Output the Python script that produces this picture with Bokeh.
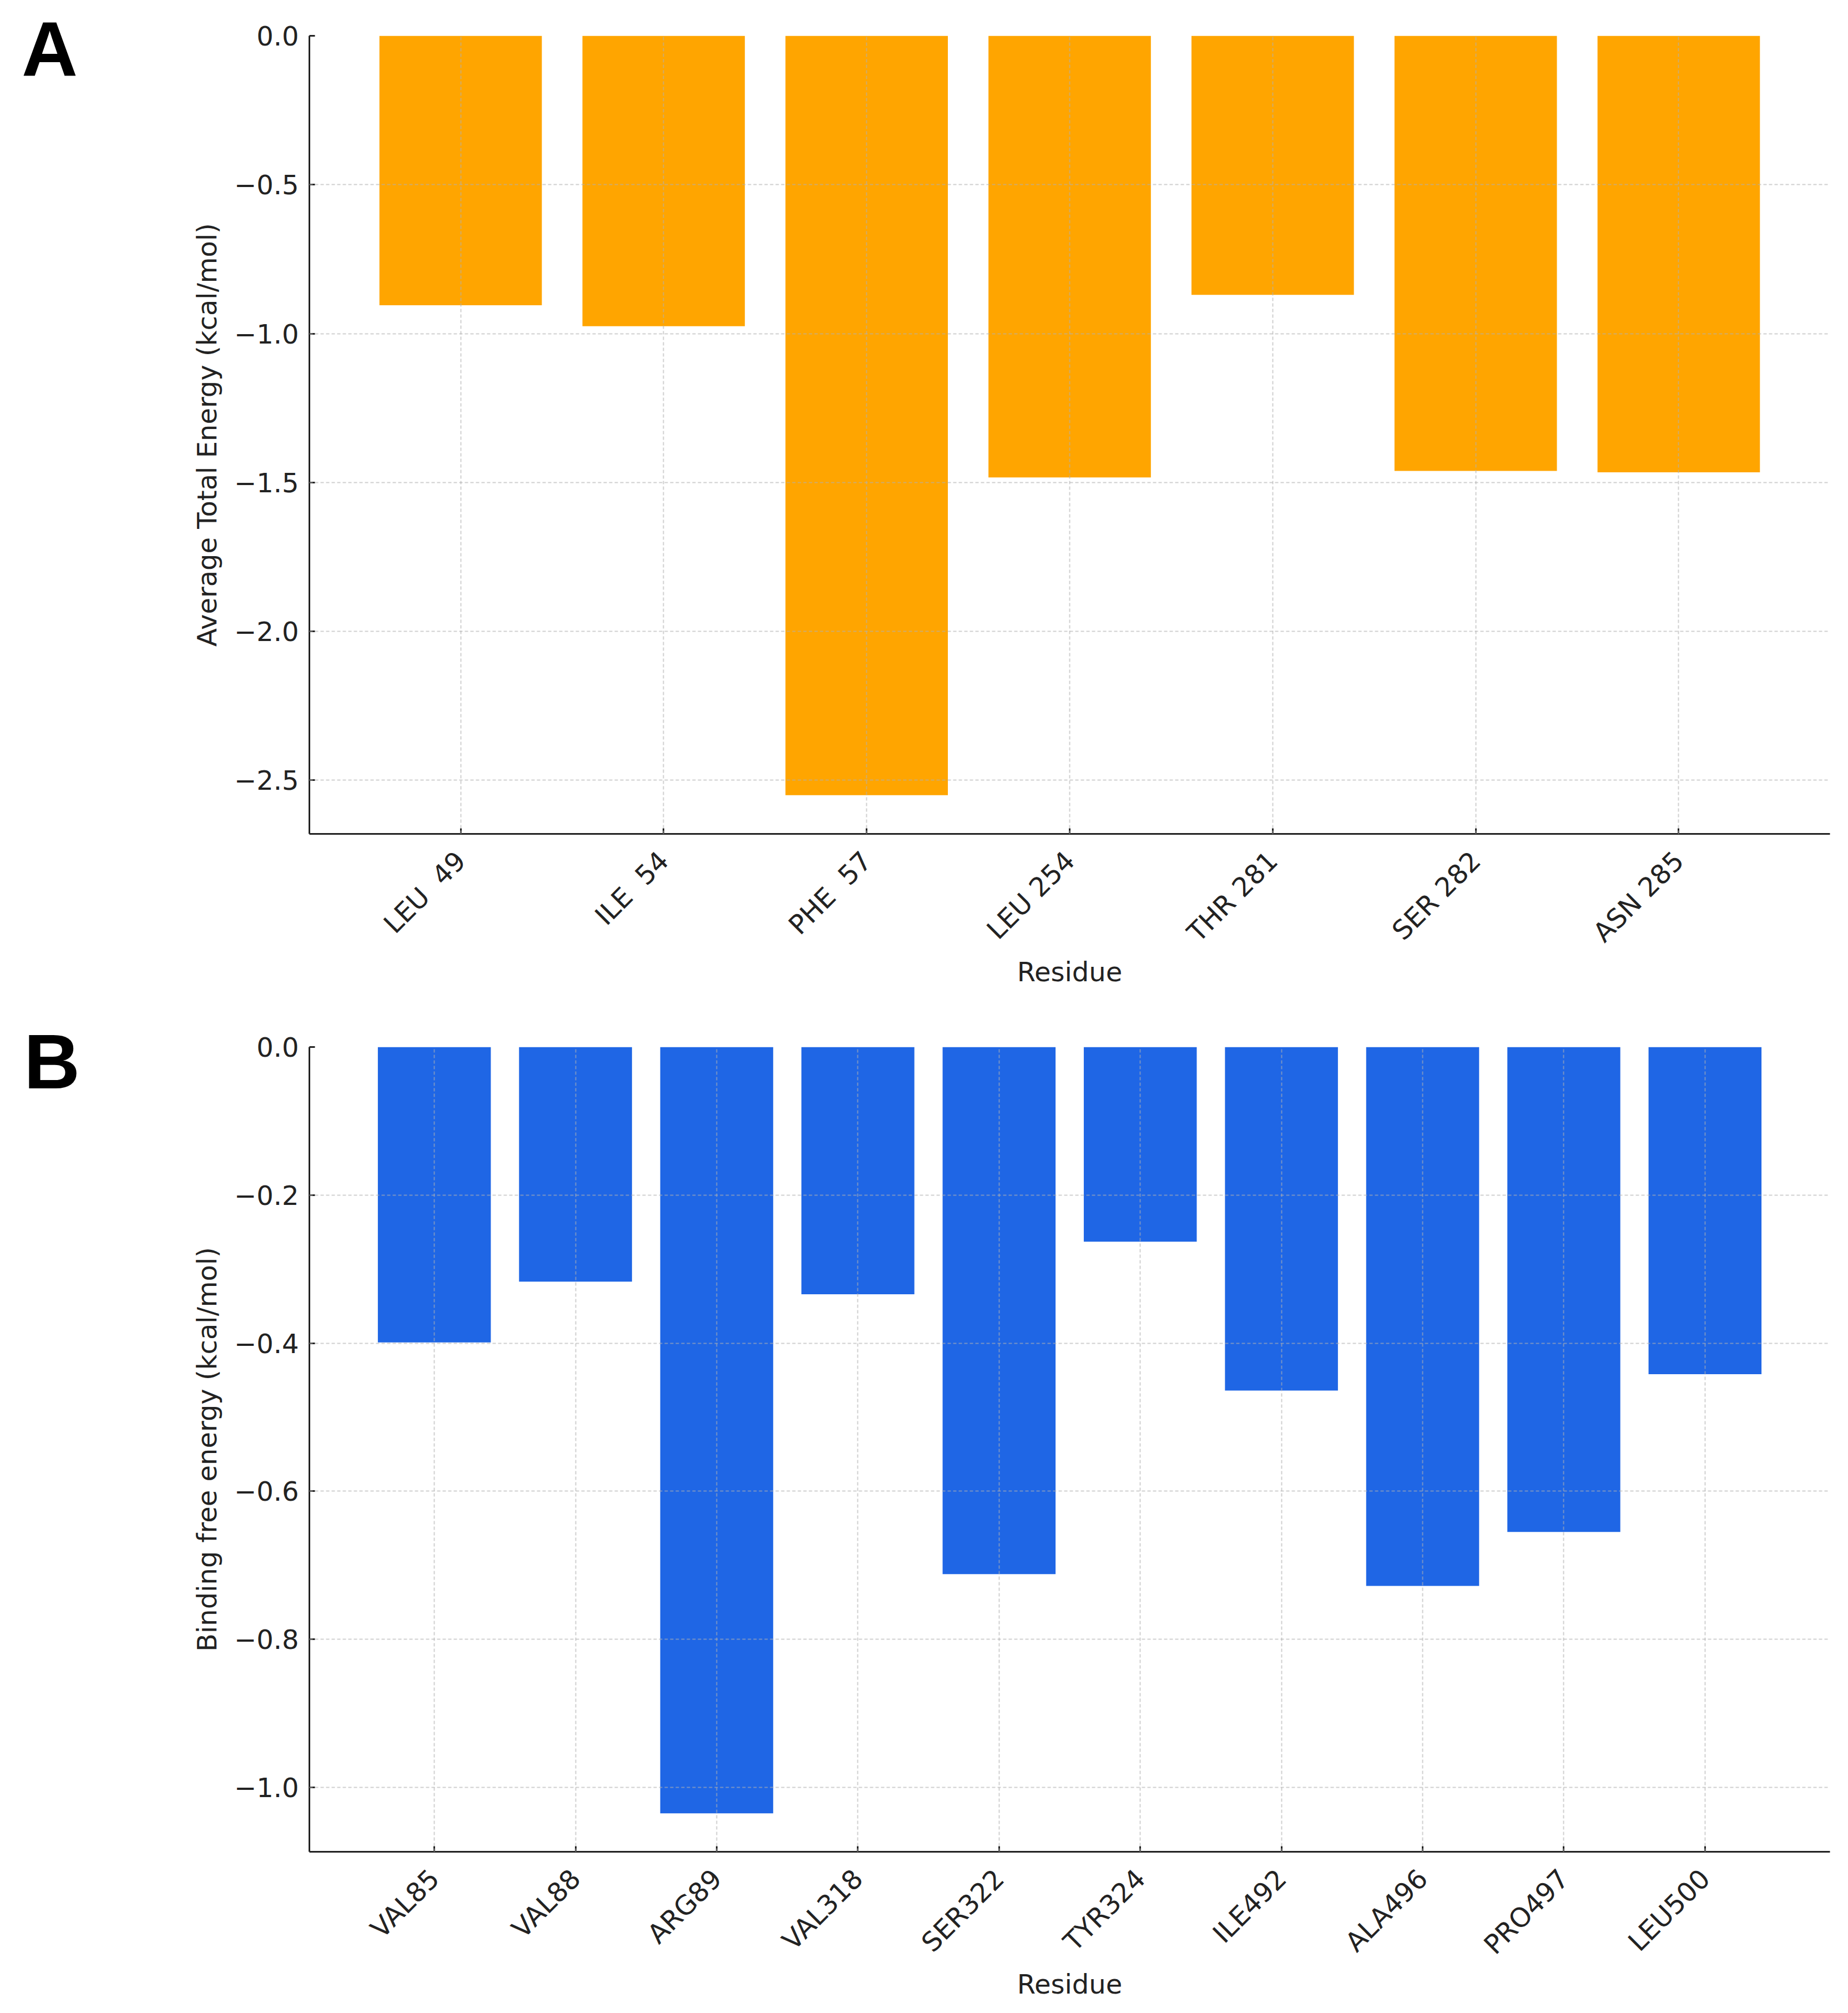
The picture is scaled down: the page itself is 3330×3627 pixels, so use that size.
from bokeh.plotting import figure
from bokeh.models import (ColumnDataSource, FactorRange, Range1d, FixedTicker,
                          CustomJSTickFormatter, Div)
from bokeh.layouts import column, row
from bokeh.embed import file_html
from bokeh.resources import INLINE
import math

# Panel A data
residues_a = ["LEU \u00a049", "ILE \u00a054", "PHE \u00a057", "LEU 254", "THR 281", "SER 282", "ASN 285"]
energy_a = [-0.905, -0.975, -2.55, -1.483, -0.87, -1.461, -1.466]
yticks_a = [0.0, -0.5, -1.0, -1.5, -2.0, -2.5]

# Panel B data
residues_b = ["VAL85", "VAL88", "ARG89", "VAL318", "SER322", "TYR324",
              "ILE492", "ALA496", "PRO497", "LEU500"]
energy_b = [-0.399, -0.317, -1.035, -0.334, -0.712, -0.263, -0.464, -0.728, -0.655, -0.442]
yticks_b = [0.0, -0.2, -0.4, -0.6, -0.8, -1.0]

FONT = "DejaVu Sans"
TEXT = "#222222"
LETTER_W = 140


def style(p, yticks, ylabel):
    p.outline_line_color = None
    p.background_fill_color = "white"
    p.border_fill_color = "white"

    # grid drawn over the bars, faint dashes
    for g in (p.xgrid, p.ygrid):
        g.grid_line_color = "#b0b0b0"
        g.grid_line_alpha = 0.6
        g.grid_line_dash = "6 4"
        g.grid_line_width = 2
        g.level = "overlay"
    p.ygrid.ticker = FixedTicker(ticks=yticks)

    p.yaxis.ticker = FixedTicker(ticks=yticks)
    p.yaxis.formatter = CustomJSTickFormatter(code="return tick.toFixed(1).replace('-', '\\u2212');")
    p.yaxis.axis_label = ylabel
    p.xaxis.axis_label = "Residue"
    p.xaxis.major_label_orientation = math.pi / 4

    for ax in (p.xaxis, p.yaxis):
        ax.axis_line_color = TEXT
        ax.axis_line_width = 3
        ax.major_tick_line_color = TEXT
        ax.major_tick_line_width = 3
        ax.major_tick_in = 10
        ax.major_tick_out = 0
        ax.minor_tick_line_color = None
        ax.major_label_text_font = FONT
        ax.major_label_text_font_size = "48px"
        ax.major_label_text_color = TEXT
        ax.axis_label_text_font = FONT
        ax.axis_label_text_font_size = "48px"
        ax.axis_label_text_font_style = "normal"
        ax.axis_label_text_color = TEXT
    p.yaxis.major_label_standoff = 19
    p.yaxis.axis_label_standoff = 18
    p.xaxis.major_label_text_baseline = "top"
    p.xaxis.major_label_standoff = 40
    p.xaxis.axis_label_standoff = -8


def letter(text, pad_left, pad_top, height):
    return Div(text=text, width=LETTER_W, height=height,
               styles={"font-family": "Liberation Sans", "font-weight": "bold",
                       "font-size": "140px", "line-height": "1", "color": "black",
                       "padding-left": f"{pad_left}px", "padding-top": f"{pad_top}px"})


# ---- Panel A ----
src_a = ColumnDataSource(dict(residue=residues_a, energy=energy_a))
pa = figure(x_range=FactorRange(*residues_a, range_padding=0.245, range_padding_units="absolute"),
            y_range=Range1d(-2.68, 0.0),
            width=3310 - LETTER_W, height=1838, output_backend="svg", toolbar_location=None,
            min_border_left=547 - LETTER_W, min_border_right=23, min_border_top=64, min_border_bottom=336)
pa.vbar(x="residue", top="energy", bottom=0, width=0.8, source=src_a,
        fill_color="#FFA500", line_color=None)
style(pa, yticks_a, "Average Total Energy (kcal/mol)")

# ---- Panel B ----
src_b = ColumnDataSource(dict(residue=residues_b, energy=energy_b))
pb = figure(x_range=FactorRange(*residues_b, range_padding=0.385, range_padding_units="absolute"),
            y_range=Range1d(-1.087, 0.0),
            width=3310 - LETTER_W, height=1773, output_backend="svg", toolbar_location=None,
            min_border_left=547 - LETTER_W, min_border_right=23, min_border_top=48, min_border_bottom=275)
pb.vbar(x="residue", top="energy", bottom=0, width=0.8, source=src_b,
        fill_color="#1F66E5", line_color=None)
style(pb, yticks_b, "Binding free energy (kcal/mol)")

layout = column(row(letter("A", 34, 14, 200), pa),
                row(letter("B", 38, 0, 200), pb))
open("out.html", "w").write(file_html(layout, INLINE))
